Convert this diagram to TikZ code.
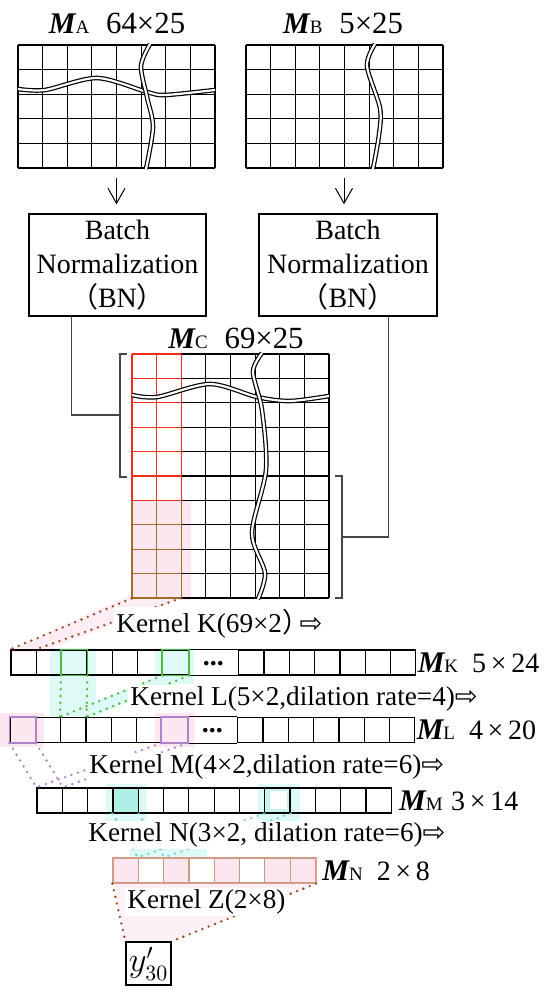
\documentclass[tikz,border=0pt]{standalone}
\usepackage{fontspec}
\setmainfont{Liberation Serif}
\newfontfamily\cjk{Noto Sans CJK SC}
\newfontfamily\symf{DejaVu Sans}
\usetikzlibrary{arrows.meta, positioning, backgrounds}

\definecolor{cred}{RGB}{235,45,25}
\definecolor{colive}{RGB}{160,110,40}
\definecolor{cbrown}{RGB}{150,70,25}
\definecolor{cgreen}{RGB}{80,185,60}
\definecolor{cpurple}{RGB}{175,130,205}
\definecolor{ccyan}{RGB}{110,205,210}
\definecolor{cturq}{RGB}{175,240,230}
\definecolor{cglow}{RGB}{222,250,246}
\definecolor{cpink}{RGB}{252,230,240}
\definecolor{csalmon}{RGB}{228,150,135}
\definecolor{ctan}{RGB}{195,160,130}
\definecolor{cgray}{RGB}{70,70,70}

\newcommand{\Mname}[1]{{\fontsize{15}{15}\selectfont\bfseries\itshape M}{\fontsize{9.5}{9.5}\selectfont #1}}

\tikzset{
  gridbox/.style={inner sep=0pt},
  gridline/.style={line width=0.55pt},
  wave/.style={double=white, double distance=1.1pt, line width=0.6pt},
  cell/.style={draw, line width=0.6pt, inner sep=0pt, minimum width=12.65pt, minimum height=12.5pt},
  bnbox/.style={draw, line width=0.7pt, align=center, inner sep=0pt, minimum height=51pt,
    font=\fontsize{14}{17}\selectfont},
  title/.style={inner sep=0pt, font=\fontsize{15.4}{16}\selectfont},
  rowlabel/.style={inner sep=0pt, font=\fontsize{14}{14}\selectfont},
  ktext/.style={fill=white, inner sep=1pt, anchor=west, font=\fontsize{13.6}{15}\selectfont},
  link/.style={cgray, line width=0.6pt},
  arr/.style={-{Straight Barb[length=7.5pt,width=8.5pt]}, line width=0.5pt},
  kdots/.style={line width=1.3pt, line cap=round, dash pattern=on 0pt off 3.4pt},
  rowdots/.style={inner sep=0pt, font=\fontsize{14}{14}\selectfont\bfseries}
}

\begin{document}
\begin{tikzpicture}[x=0.5pt, y=-0.5pt]
  \useasboundingbox (0,0) rectangle (550,995);

  % --- Input matrices A and B ---
  \node[gridbox, minimum width=98.5pt, minimum height=61.5pt] (MA) at (116.5,106.5) {};
  \node[gridbox, minimum width=98.5pt, minimum height=61.5pt] (MB) at (344,106.5) {};
  \foreach \c in {0,...,8} {
    \draw[gridline] ({18+24.625*\c},45) -- ++(0,123);
    \draw[gridline] ({246+24.625*\c},45) -- ++(0,123);
  }
  \foreach \r in {0,...,5} {
    \draw[gridline] (18,{45+24.6*\r}) -- ++(197,0);
    \draw[gridline] (246,{45+24.6*\r}) -- ++(197,0);
  }
  \draw[wave] plot[smooth] coordinates {(18,89) (45,90) (97,78) (147,92) (165,95) (215,90)};
  \draw[wave] plot[smooth] coordinates {(150,44) (141,66) (147,97) (153,127) (146,169)};
  \draw[wave] plot[smooth] coordinates {(375,44) (367,66) (380,108) (379,135) (373,169)};
  \node[title] (tA) at (117,23) {\Mname{A}\hspace{0.55em}64×25};
  \node[title] (tB) at (343,23) {\Mname{B}\hspace{0.55em}5×25};

  % --- Batch normalization ---
  \node[bnbox, minimum width=88.5pt] (bnA) at (117.5,265) {Batch\\Normalization\\{\cjk （}BN{\cjk ）}};
  \node[bnbox, minimum width=89pt] (bnB) at (348,265) {Batch\\Normalization\\{\cjk （}BN{\cjk ）}};
  \draw[arr, shorten <=5pt, shorten >=4.5pt] (MA.south) -- (MA.south |- bnA.north);
  \draw[arr, shorten <=5pt, shorten >=4.5pt] (MB.south) -- (MB.south |- bnB.north);

  % --- Concatenated matrix C ---
  \node[gridbox, minimum width=98.5pt, minimum height=122pt] (MC) at (230.5,476) {};
  \foreach \c in {0,...,8}
    \draw[gridline] ({132+24.625*\c},354) -- ++(0,244);
  \foreach \r in {0,...,10}
    \draw[gridline] (132,{354+24.4*\r}) -- ++(197,0);
  \foreach \c in {0,1,2} {
    \draw[gridline, cred] ({132+24.625*\c},354) -- ++(0,146.4);
    \draw[gridline, colive] ({132+24.625*\c},500.4) -- ++(0,97.6);
  }
  \foreach \r in {0,...,6}
    \draw[gridline, cred] (132,{354+24.4*\r}) -- ++(49.25,0);
  \foreach \r in {7,...,10}
    \draw[gridline, colive] (132,{354+24.4*\r}) -- ++(49.25,0);
  \draw[wave] plot[smooth] coordinates {(132,395) (157,397) (210,384) (257,397) (290,401) (329,396)};
  \draw[wave] plot[smooth] coordinates {(262,353) (253,372) (262,410) (266,470) (252,533) (265,573) (258,599)};
  \node[title] (tC) at (236,338) {\Mname{C}\hspace{0.55em}69×25};

  % brackets and links
  \draw[link] (127,354) -- (120,354) -- (120,477) -- (127,477);
  \draw[link] (335,476) -- (342,476) -- (342,598) -- (335,598);
  \coordinate (brL) at (120,415);
  \coordinate (brR) at (342,537);
  \draw[link] (bnA.south west) ++(43,0) |- (brL);
  \draw[link] (bnB.south west) ++(130,0) |- (brR);

  % --- Feature rows ---
  \foreach \i in {0,...,6,9,10,...,15} {
    \node[cell] (mk\i) at ({11+25.3*(\i+0.5)},662.5) {};
    \node[cell] (ml\i) at ({10+25.3*(\i+0.5)},730) {};
  }
  \draw[gridline] (mk6.north east) -- (mk9.north west);
  \draw[gridline] (mk6.south east) -- (mk9.south west);
  \draw[gridline] (ml6.north east) -- (ml9.north west);
  \draw[gridline] (ml6.south east) -- (ml9.south west);
  \node[rowdots] (mkdots) at ({11+25.3*8},664) {...};
  \node[rowdots] (mldots) at ({10+25.3*8},731) {...};
  \draw[cgreen, line width=0.8pt] (mk2.south west) rectangle (mk2.north east);
  \draw[cgreen, line width=0.8pt] (mk6.south west) rectangle (mk6.north east);
  \draw[cpurple, line width=0.8pt] (ml0.south west) rectangle (ml0.north east);
  \draw[cpurple, line width=0.8pt] (ml6.south west) rectangle (ml6.north east);
  \foreach \i in {0,...,13}
    \node[cell] (mm\i) at ({37+25.3*(\i+0.5)},800.5) {};
  \foreach \i in {0,...,7}
    \node[cell, draw=ctan] (mn\i) at ({113+25.3*(\i+0.5)},870.5) {};
  \draw[csalmon, line width=0.8pt] (mn0.north west) rectangle (mn7.south east);
  \node[draw, line width=0.7pt, minimum width=22.5pt, minimum height=21.5pt, inner sep=0pt]
    (yout) at (148.5,963.5) {\fontsize{16}{16}\selectfont $y'_{30}$};

  \node[rowlabel, right=0.5pt of mk15] (lK) {\Mname{K}\hspace{0.5em}5\,×\,24};
  \node[rowlabel, right=0.5pt of ml15] (lL) {\Mname{L}\hspace{0.5em}4\,×\,20};
  \node[rowlabel, right=3.5pt of mm13] (lM) {\Mname{M}\hspace{0.3em}3\,×\,14};
  \node[rowlabel, right=3pt of mn7] (lN) {\Mname{N}\hspace{0.5em}2\,×\,8};

  % --- Kernel connections ---
  \coordinate (mcK) at (181.25,598);
  \draw[kdots, cbrown] (MC.south west) -- (mk0.north west);
  \draw[kdots, cbrown] (mcK) -- (mk1.north west);
  \draw[kdots, cgreen] (mk2.south west) -- (ml2.north west);
  \draw[kdots, cgreen] (mk2.south east) -- (ml2.north east);
  \draw[kdots, cgreen] (mk6.south west) -- (ml2.north west);
  \draw[kdots, cgreen] (mk6.south east) -- (ml2.north east);
  \draw[kdots, cpurple] (ml0.south west) -- (mm0.north west);
  \draw[kdots, cpurple] (ml0.south east) -- (mm0.north east);
  \draw[kdots, cpurple] (ml6.south west) -- (mm0.north west);
  \draw[kdots, cpurple] (ml6.south east) -- (mm0.north east);
  \draw[kdots, ccyan] (mm3.south west) -- (mn1.north west);
  \draw[kdots, ccyan] (mm3.south east) -- (mn1.north east);
  \draw[kdots, ccyan] (mm9.south west) -- (mn1.north west);
  \draw[kdots, ccyan] (mm9.south east) -- (mn1.north east);
  \draw[kdots, cbrown] (mn0.south west) -- (yout.north west);
  \draw[kdots, cbrown] (mn7.south east) -- (yout.north east);

  \node[ktext] (kK) at (114,624) {Kernel K(69×2{\cjk ）}\hspace{-0.35em}{\symf ⇨}};
  \node[ktext] (kL) at (128,699) {Kernel L(5×2,dilation rate=4){\symf ⇨}};
  \node[ktext] (kM) at (87,767) {Kernel M(4×2,dilation rate=6){\symf ⇨}};
  \node[ktext] (kN) at (86,835) {Kernel N(3×2, dilation rate=6){\symf ⇨}};
  \node[ktext] (kZ) at (125,902) {Kernel Z(2×8)};

  % --- Highlights ---
  \begin{pgfonlayer}{background}
    \fill[cpink] (132,500) rectangle (191,600);
    \fill[cpink!70] (128,596) -- (188,596) -- (40,652) -- (5,652) -- cycle;
    \fill[cglow] (50,648) rectangle (96,716);
    \fill[cglow] (155,648) rectangle (194,684);
    \fill[cglow] (162,675) -- (190,675) -- (96,716) -- (58,716) -- cycle;
    \fill[cpink] (0,713) rectangle (44,747);
    \fill[cpink] (155,713) rectangle (195,747);
    \fill[cglow] (106,784) rectangle (147,832);
    \fill[cturq] (mm3.south west) rectangle (mm3.north east);
    \fill[cglow] (258,784) rectangle (300,822);
    \fill[cturq!70] (mm9.south west) rectangle (mm9.north east);
    \fill[white] (270,791) rectangle (287,809);
    \fill[cglow] (130,838) rectangle (207,858);
    \foreach \i in {0,2,4,6,7}
      \fill[cpink] (mn\i.south west) rectangle (mn\i.north east);
    \fill[cpink!60] (113,883) -- (317,883) -- (171,942) -- (126,942) -- cycle;
  \end{pgfonlayer}
\end{tikzpicture}
\end{document}
